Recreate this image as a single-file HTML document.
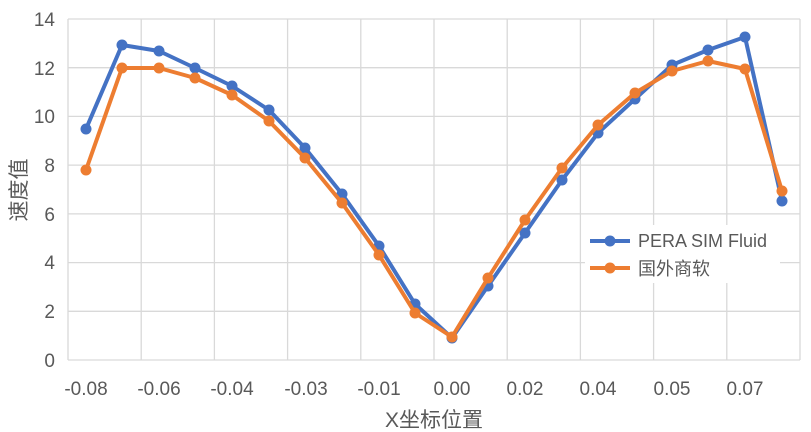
<!DOCTYPE html><html><head><meta charset="utf-8"><style>body{margin:0;background:#fff}svg{display:block}text{font-family:"Liberation Sans","Noto Sans CJK SC",sans-serif;fill:#595959}</style></head><body>
<svg width="811" height="432" xmlns="http://www.w3.org/2000/svg">
<g stroke="#d9d9d9" stroke-width="1.3">
<line x1="68" y1="19" x2="800" y2="19"/><line x1="68" y1="67.7" x2="800" y2="67.7"/><line x1="68" y1="116.4" x2="800" y2="116.4"/><line x1="68" y1="165.1" x2="800" y2="165.1"/><line x1="68" y1="213.9" x2="800" y2="213.9"/><line x1="68" y1="262.6" x2="800" y2="262.6"/><line x1="68" y1="311.3" x2="800" y2="311.3"/>
<line x1="68" y1="19" x2="68" y2="360"/><line x1="141.2" y1="19" x2="141.2" y2="360"/><line x1="214.4" y1="19" x2="214.4" y2="360"/><line x1="287.6" y1="19" x2="287.6" y2="360"/><line x1="360.8" y1="19" x2="360.8" y2="360"/><line x1="434" y1="19" x2="434" y2="360"/><line x1="507.2" y1="19" x2="507.2" y2="360"/><line x1="580.4" y1="19" x2="580.4" y2="360"/><line x1="653.6" y1="19" x2="653.6" y2="360"/><line x1="726.8" y1="19" x2="726.8" y2="360"/><line x1="800" y1="19" x2="800" y2="360"/>
<line x1="68" y1="360" x2="800" y2="360"/></g>
<g font-size="19" text-anchor="end">
<text x="55" y="26">14</text><text x="55" y="75">12</text><text x="55" y="123">10</text><text x="55" y="172">8</text><text x="55" y="221">6</text><text x="55" y="269">4</text><text x="55" y="318">2</text><text x="55" y="367">0</text></g>
<g font-size="19" text-anchor="middle">
<text x="86" y="395">-0.08</text><text x="159" y="395">-0.06</text><text x="232" y="395">-0.04</text><text x="306" y="395">-0.03</text><text x="379" y="395">-0.01</text><text x="452" y="395">0.00</text><text x="525" y="395">0.02</text><text x="598" y="395">0.04</text><text x="672" y="395">0.05</text><text x="745" y="395">0.07</text>
<text x="434" y="427" font-size="21">X坐标位置</text></g>
<text transform="translate(26,190) rotate(-90)" font-size="21" text-anchor="middle">速度值</text>
<polyline fill="none" stroke="#4472C4" stroke-width="4" stroke-linejoin="round" points="86,129 122,45 159,51 195,68 232,86 269,110 305,148 342,194 379,246 415,304 452,338 488,286 525,233 562,180 598,133 635,99 672,65 708,50 745,37 782,201"/>
<g fill="#4472C4"><circle cx="86" cy="129" r="5.5"/><circle cx="122" cy="45" r="5.5"/><circle cx="159" cy="51" r="5.5"/><circle cx="195" cy="68" r="5.5"/><circle cx="232" cy="86" r="5.5"/><circle cx="269" cy="110" r="5.5"/><circle cx="305" cy="148" r="5.5"/><circle cx="342" cy="194" r="5.5"/><circle cx="379" cy="246" r="5.5"/><circle cx="415" cy="304" r="5.5"/><circle cx="452" cy="338" r="5.5"/><circle cx="488" cy="286" r="5.5"/><circle cx="525" cy="233" r="5.5"/><circle cx="562" cy="180" r="5.5"/><circle cx="598" cy="133" r="5.5"/><circle cx="635" cy="99" r="5.5"/><circle cx="672" cy="65" r="5.5"/><circle cx="708" cy="50" r="5.5"/><circle cx="745" cy="37" r="5.5"/><circle cx="782" cy="201" r="5.5"/></g>
<polyline fill="none" stroke="#ED7D31" stroke-width="4" stroke-linejoin="round" points="86,170 122,68 159,68 195,78 232,95 269,121 305,158 342,203 379,255 415,313 452,337 488,278 525,220 562,168 598,125 635,93 672,71 708,61 745,69 782,191"/>
<g fill="#ED7D31"><circle cx="86" cy="170" r="5.5"/><circle cx="122" cy="68" r="5.5"/><circle cx="159" cy="68" r="5.5"/><circle cx="195" cy="78" r="5.5"/><circle cx="232" cy="95" r="5.5"/><circle cx="269" cy="121" r="5.5"/><circle cx="305" cy="158" r="5.5"/><circle cx="342" cy="203" r="5.5"/><circle cx="379" cy="255" r="5.5"/><circle cx="415" cy="313" r="5.5"/><circle cx="452" cy="337" r="5.5"/><circle cx="488" cy="278" r="5.5"/><circle cx="525" cy="220" r="5.5"/><circle cx="562" cy="168" r="5.5"/><circle cx="598" cy="125" r="5.5"/><circle cx="635" cy="93" r="5.5"/><circle cx="672" cy="71" r="5.5"/><circle cx="708" cy="61" r="5.5"/><circle cx="745" cy="69" r="5.5"/><circle cx="782" cy="191" r="5.5"/></g>
<rect x="585" y="225" width="195" height="58" fill="#fff"/>
<line x1="590" y1="241" x2="630" y2="241" stroke="#4472C4" stroke-width="4"/><circle cx="610" cy="241" r="5.5" fill="#4472C4"/>
<text x="638" y="247" font-size="18">PERA SIM Fluid</text>
<line x1="590" y1="268" x2="630" y2="268" stroke="#ED7D31" stroke-width="4"/><circle cx="610" cy="268" r="5.5" fill="#ED7D31"/>
<text x="638" y="275" font-size="18">国外商软</text>
</svg></body></html>
